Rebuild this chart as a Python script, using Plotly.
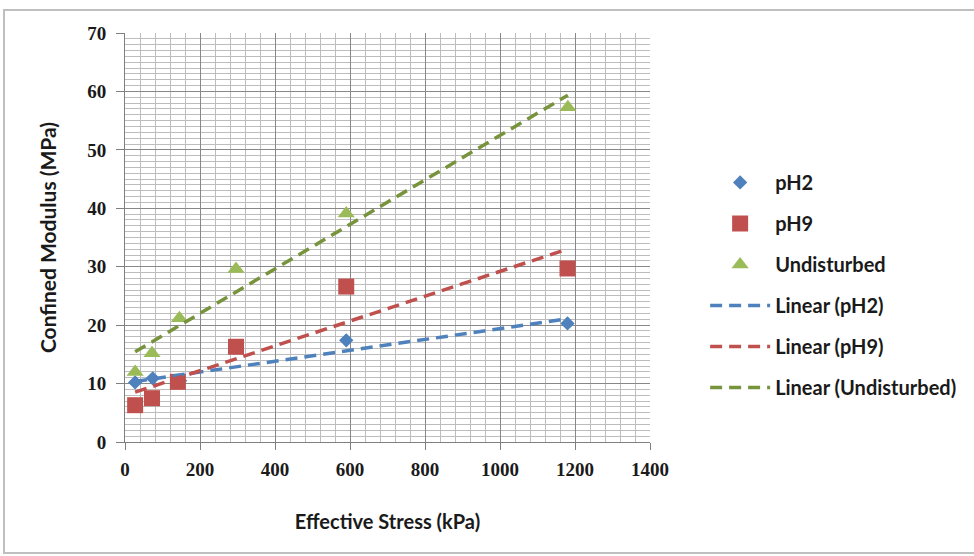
import numpy as np
import plotly.graph_objects as go

# Data
stress_ph2 = [27, 74, 147, 590, 1180]
modulus_ph2 = [10.2, 10.9, 10.5, 17.4, 20.3]

stress_ph9 = [27, 72, 141, 296, 590, 1180]
modulus_ph9 = [6.3, 7.5, 10.3, 16.3, 26.6, 29.7]

stress_und = [27, 72, 145, 296, 590, 1181]
modulus_und = [12.0, 15.2, 21.2, 29.6, 39.1, 57.3]

series_names = ["pH2", "pH9", "Undisturbed"]
x_ticks = [0, 200, 400, 600, 800, 1000, 1200, 1400]
y_ticks = [0, 10, 20, 30, 40, 50, 60, 70]

marker_colors = ["#4F81BD", "#C0504D", "#9BBB59"]
line_colors = ["#4F81BD", "#C0504D", "#77933C"]
symbols = ["diamond", "square", "triangle-up"]
sizes = [11, 16, 15]

data = [(stress_ph2, modulus_ph2), (stress_ph9, modulus_ph9), (stress_und, modulus_und)]

fig = go.Figure()
for i, (xs, ys) in enumerate(data):
    fig.add_trace(go.Scatter(
        x=xs, y=ys, mode="markers", name=series_names[i],
        legendgroup=f"g{i}",
        marker=dict(symbol=symbols[i], size=sizes[i], color=marker_colors[i],
                    line=dict(width=0)),
    ))

# Linear trendlines (least squares fit over data range)
for i, (xs, ys) in enumerate(data):
    xa = np.array(xs, dtype=float)
    ya = np.array(ys, dtype=float)
    slope, intercept = np.polyfit(xa, ya, 1)
    xt = np.array([xa.min(), xa.max()])
    fig.add_trace(go.Scatter(
        x=xt, y=slope * xt + intercept, mode="lines",
        name=f"Linear ({series_names[i]})", legendgroup=f"l{i}",
        line=dict(color=line_colors[i], width=3.5, dash="12px,7px"),
    ))

# Outer chart border (paper coordinates extend beyond plot area)
fig.add_shape(type="rect", xref="paper", yref="paper",
              x0=-0.2305, x1=2.0, y0=-0.2714, y1=1.056,
              line=dict(color="#BFBFBF", width=2), fillcolor="rgba(0,0,0,0)",
              layer="below")

tick_font = dict(family="Liberation Serif", size=19, color="#1a1a1a")

fig.update_layout(
    width=974, height=556,
    margin=dict(l=125, r=324, t=33, b=114),
    paper_bgcolor="white", plot_bgcolor="white",
    showlegend=True,
    legend=dict(x=1.105, y=0.384, xanchor="left", yanchor="middle",
                font=dict(family="Lato", size=20, color="#1a1a1a", weight="bold"),
                tracegroupgap=12, itemwidth=60,
                bgcolor="rgba(0,0,0,0)"),
    xaxis=dict(
        range=[0, 1400], tickvals=x_ticks, ticktext=[f"<b>{v}</b>" for v in x_ticks],
        tickfont=tick_font, ticks="outside", ticklen=7, tickcolor="#7f7f7f",
        ticklabelstandoff=3,
        showline=True, linecolor="#7f7f7f", linewidth=1,
        showgrid=True, gridcolor="#888888", gridwidth=1,
        minor=dict(dtick=40, showgrid=True, gridcolor="#bdbdbd", gridwidth=1),
        title=dict(text="<b>Effective Stress (kPa)</b>",
                   font=dict(family="Lato", size=20, color="#1a1a1a"), standoff=36),
        zeroline=False, fixedrange=True,
    ),
    yaxis=dict(
        range=[0, 70], tickvals=y_ticks, ticktext=[f"<b>{v}</b>" for v in y_ticks],
        tickfont=tick_font, ticks="outside", ticklen=8, tickcolor="#7f7f7f",
        ticklabelstandoff=6,
        showline=True, linecolor="#7f7f7f", linewidth=1,
        showgrid=True, gridcolor="#888888", gridwidth=1,
        minor=dict(dtick=1, showgrid=True, gridcolor="#bdbdbd", gridwidth=1),
        title=dict(text="<b>Confined Modulus (MPa)</b>",
                   font=dict(family="Lato", size=21, color="#1a1a1a"), standoff=24),
        zeroline=False, fixedrange=True,
    ),
)

fig.write_html(
    "out.html",
    config={"displayModeBar": False},
    post_script="document.body.style.margin='0';document.body.style.overflow='hidden';",
)
